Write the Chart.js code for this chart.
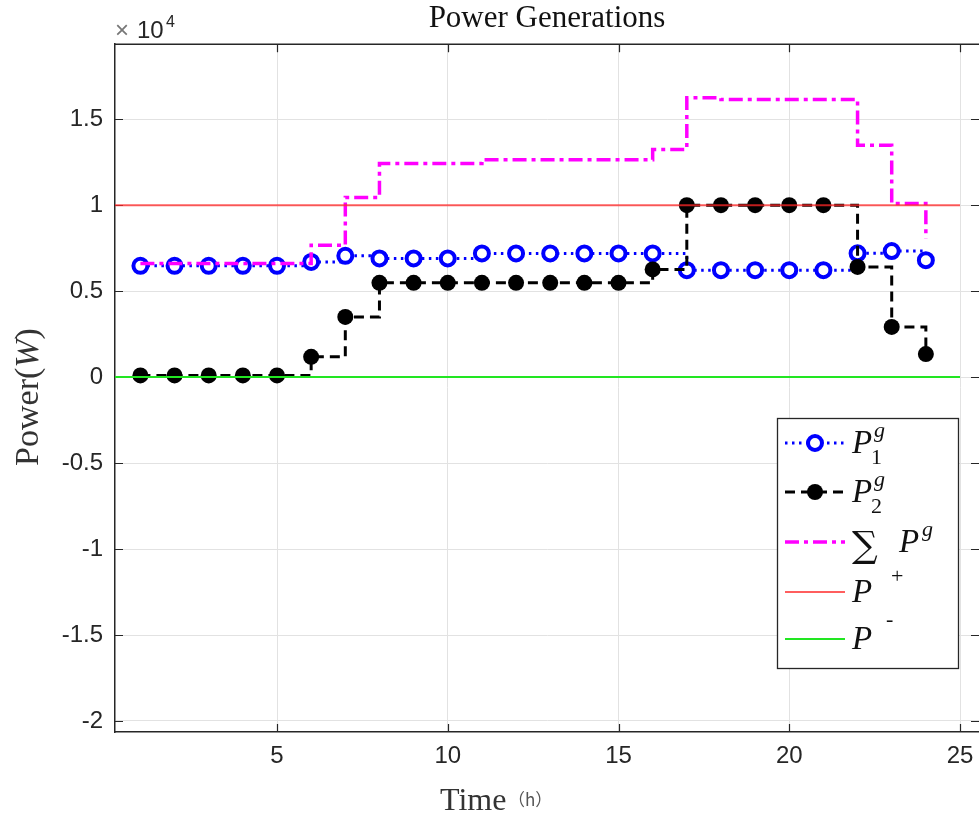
<!DOCTYPE html>
<html><head><meta charset="utf-8">
<script src="https://cdn.jsdelivr.net/npm/chart.js@4/dist/chart.umd.min.js"></script>
<style>html,body{margin:0;padding:0;background:#fff}canvas{display:block}</style>
</head><body>
<canvas id="c" width="979" height="817"></canvas>
<script>
// ---- data (W) ----
const hours = [1,2,3,4,5,6,7,8,9,10,11,12,13,14,15,16,17,18,19,20,21,22,23,24];
const p1   = [6470,6470,6470,6470,6470,6700,7050,6900,6900,6900,7190,7190,7190,7190,7190,7190,6220,6220,6220,6220,6220,7200,7330,6800];
const p2   = [100,100,100,100,100,1180,3500,5480,5480,5480,5480,5480,5480,5480,5480,6260,10000,10000,10000,10000,10000,6410,2920,1340];
const pSum = [6600,6600,6600,6600,6600,7670,10450,12420,12420,12420,12640,12640,12640,12640,12640,13240,16250,16150,16150,16150,16150,13490,10100,8060];
const pUpper = 10000;
const pLower = 0;
const limitSpan = [0, 25];
const xTicks = [5, 10, 15, 20, 25];
const yTicks = [-20000, -15000, -10000, -5000, 0, 5000, 10000, 15000];
const xLimits = [0.256, 25.556];
const yLimits = [-20640, 19360];

const pts = arr => hours.map((h, i) => ({x: h, y: arr[i]}));
const hline = v => limitSpan.map(x => ({x: x, y: v}));

const AX = '#262626';
const tickFont = {family: 'Liberation Sans', size: 24};

const decor = {
  id: 'decor',
  beforeDatasetsDraw(chart) {
    const {ctx, chartArea: a, scales: {x, y}} = chart;
    ctx.save();
    ctx.strokeStyle = AX; ctx.lineWidth = 1.2;
    ctx.beginPath();
    yTicks.forEach(v => {
      const py = Math.round(y.getPixelForValue(v)) + 0.5;
      ctx.moveTo(a.left, py); ctx.lineTo(a.left + 8, py);
      ctx.moveTo(a.right - 8, py); ctx.lineTo(a.right, py);
    });
    xTicks.forEach(v => {
      const px = Math.round(x.getPixelForValue(v)) + 0.5;
      ctx.moveTo(px, a.bottom); ctx.lineTo(px, a.bottom - 8);
      ctx.moveTo(px, a.top); ctx.lineTo(px, a.top + 8);
    });
    ctx.stroke();
    ctx.restore();
  },
  afterDraw(chart) {
    const {ctx, chartArea: a} = chart;
    ctx.save();
    // top border
    ctx.strokeStyle = AX; ctx.lineWidth = 1.5;
    ctx.beginPath(); ctx.moveTo(a.left, a.top); ctx.lineTo(a.right, a.top); ctx.stroke();

    // x10^4 exponent
    ctx.textBaseline = 'alphabetic'; ctx.textAlign = 'left';
    ctx.fillStyle = '#777'; ctx.font = '24px "Liberation Sans"';
    ctx.fillText('\u00d7', 115, 38);
    ctx.fillStyle = AX; ctx.font = '24px "Liberation Sans"';
    ctx.fillText('10', 137, 38);
    ctx.font = '16px "Liberation Sans"';
    ctx.fillText('4', 166, 27);

    // x axis title
    ctx.fillStyle = '#333'; ctx.font = '32px "Liberation Serif"';
    ctx.fillText('Time', 440, 810);
    ctx.fillStyle = '#555'; ctx.font = '17px "Noto Sans CJK SC"';
    ctx.fillText('\uff08h\uff09', 508, 806);

    // y axis title
    ctx.save();
    ctx.translate(38, 397); ctx.rotate(-Math.PI / 2);
    ctx.fillStyle = '#333';
    const f1 = '34px "Liberation Serif"', f2 = 'italic 34px "Liberation Serif"';
    ctx.font = f1; const w1 = ctx.measureText('Power(').width;
    ctx.font = f2; const w2 = ctx.measureText('W').width;
    ctx.font = f1; const w3 = ctx.measureText(')').width;
    let sx = -(w1 + w2 + w3) / 2;
    ctx.font = f1; ctx.fillText('Power(', sx, 0); sx += w1;
    ctx.font = f2; ctx.fillText('W', sx, 0); sx += w2;
    ctx.font = f1; ctx.fillText(')', sx, 0);
    ctx.restore();

    // legend
    const bx = 777, by = 418, bw = 181, bh = 250;
    ctx.fillStyle = '#fff'; ctx.fillRect(bx, by, bw, bh);
    ctx.strokeStyle = AX; ctx.lineWidth = 1.3; ctx.strokeRect(bx + 0.5, by + 0.5, bw, bh);
    const L0 = 785, L1 = 845, LM = 815;
    const sample = (yy, color, w, dash) => {
      ctx.save(); ctx.strokeStyle = color; ctx.lineWidth = w; ctx.setLineDash(dash);
      ctx.beginPath(); ctx.moveTo(L0, yy); ctx.lineTo(L1, yy); ctx.stroke(); ctx.restore();
    };
    const rows = [443, 492, 542, 592, 639];
    sample(rows[0], '#0000ff', 3, [2.5, 4.5]);
    ctx.save(); ctx.beginPath(); ctx.arc(LM, rows[0], 7, 0, Math.PI * 2);
    ctx.fillStyle = '#fff'; ctx.fill(); ctx.strokeStyle = '#0000ff'; ctx.lineWidth = 4; ctx.stroke(); ctx.restore();
    sample(rows[1], '#000', 3, [10, 6]);
    ctx.save(); ctx.beginPath(); ctx.arc(LM, rows[1], 8, 0, Math.PI * 2);
    ctx.fillStyle = '#000'; ctx.fill(); ctx.restore();
    sample(rows[2], '#ff00ff', 3.5, [14, 5, 4, 5]);
    sample(rows[3], 'rgba(255,40,40,0.75)', 2, []);
    sample(rows[4], '#22e622', 2, []);

    ctx.fillStyle = '#111';
    const P = 'italic 33px "Liberation Serif"', S = 'italic 22px "Liberation Serif"', N = '22px "Liberation Serif"';
    // P1g
    ctx.font = P; ctx.fillText('P', 852, rows[0] + 10);
    ctx.font = S; ctx.fillText('g', 874, rows[0] - 6);
    ctx.font = N; ctx.fillText('1', 871, rows[0] + 21);
    // P2g
    ctx.font = P; ctx.fillText('P', 852, rows[1] + 10);
    ctx.font = S; ctx.fillText('g', 874, rows[1] - 6);
    ctx.font = N; ctx.fillText('2', 871, rows[1] + 21);
    // sum Pg
    ctx.font = '36px "DejaVu Serif"'; ctx.fillText('\u2211', 852, rows[2] + 15);
    ctx.font = P; ctx.fillText('P', 899, rows[2] + 10);
    ctx.font = S; ctx.fillText('g', 922, rows[2] - 6);
    // P+
    ctx.font = P; ctx.fillText('P', 852, rows[3] + 10);
    ctx.font = N; ctx.fillText('+', 891, rows[3] - 9);
    // P-
    ctx.font = P; ctx.fillText('P', 852, rows[4] + 10);
    ctx.font = N; ctx.fillText('-', 886, rows[4] - 13);
    ctx.restore();
  }
};

const noPad = s => { s.paddingLeft = 0; s.paddingRight = 0; s.paddingTop = 0; s.paddingBottom = 0; };

new Chart(document.getElementById('c'), {
  type: 'line',
  data: {
    datasets: [
      {label: 'P1g', data: pts(p1), order: 5, stepped: true,
       borderColor: '#0000ff', borderWidth: 3, borderDash: [2.5, 4.5],
       pointStyle: 'circle', pointRadius: 7, pointBorderWidth: 4,
       pointBackgroundColor: '#fff', pointBorderColor: '#0000ff'},
      {label: 'P2g', data: pts(p2), order: 4, stepped: true,
       borderColor: '#000', borderWidth: 3, borderDash: [10, 6],
       pointStyle: 'circle', pointRadius: 8, pointBorderWidth: 0,
       pointBackgroundColor: '#000', pointBorderColor: '#000'},
      {label: 'Sum Pg', data: pts(pSum), order: 3, stepped: true,
       borderColor: '#ff00ff', borderWidth: 3.5, borderDash: [14, 5, 4, 5], pointRadius: 0},
      {label: 'P+', data: hline(pUpper), order: 2,
       borderColor: 'rgba(255,40,40,0.75)', borderWidth: 2, pointRadius: 0},
      {label: 'P-', data: hline(pLower), order: 1,
       borderColor: '#22e622', borderWidth: 2, pointRadius: 0}
    ]
  },
  options: {
    responsive: false, animation: false, devicePixelRatio: 1,
    layout: {autoPadding: false, padding: {top: 0, left: 0, bottom: 0, right: 0}},
    plugins: {
      legend: {display: false}, tooltip: {enabled: false},
      title: {display: true, fullSize: false, text: 'Power Generations', color: '#111',
              font: {family: 'Liberation Serif', size: 31, weight: 'normal'},
              padding: {top: 0, bottom: 7}}
    },
    scales: {
      x: {type: 'linear', min: xLimits[0], max: xLimits[1],
          afterBuildTicks: s => { s.ticks = xTicks.map(v => ({value: v})); },
          afterFit: s => { s.height = 85; noPad(s); },
          ticks: {font: tickFont, color: AX, padding: 10, maxRotation: 0, autoSkip: false,
                  callback: v => String(v)},
          grid: {color: '#e2e2e2', lineWidth: 1, drawTicks: false},
          border: {color: AX, width: 1.5}},
      y: {type: 'linear', min: yLimits[0], max: yLimits[1],
          afterBuildTicks: s => { s.ticks = yTicks.map(v => ({value: v})); },
          afterFit: s => { s.width = 115; noPad(s); },
          ticks: {font: tickFont, color: AX, padding: 12, autoSkip: false,
                  callback: v => String(v / 10000)},
          grid: {color: '#e2e2e2', lineWidth: 1, drawTicks: false},
          border: {color: AX, width: 1.5}}
    }
  },
  plugins: [decor]
});
</script>
</body></html>
